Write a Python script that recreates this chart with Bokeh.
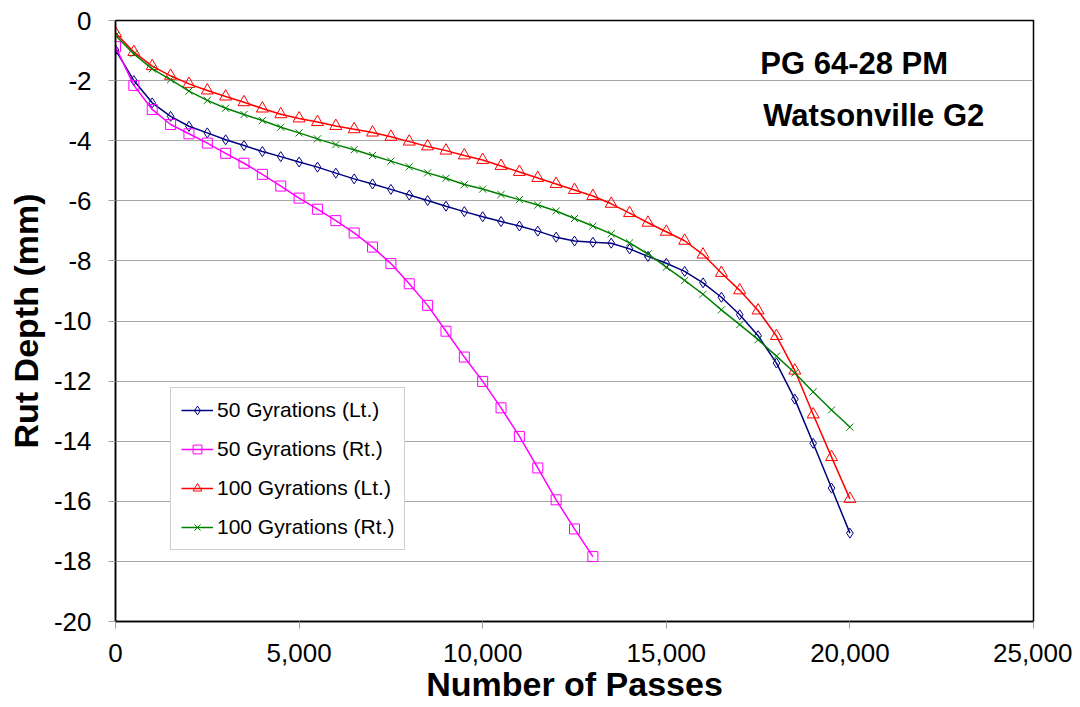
from bokeh.plotting import figure
from bokeh.models import (Legend, LegendItem, NumeralTickFormatter, PrintfTickFormatter,
                          FixedTicker, Label, Range1d)
from bokeh.embed import file_html
from bokeh.resources import INLINE

# ---- data ----
passes_full = [0, 500, 1000, 1500, 2000, 2500, 3000, 3500, 4000, 4500, 5000, 5500, 6000, 6500,
               7000, 7500, 8000, 8500, 9000, 9500, 10000, 10500, 11000, 11500, 12000, 12500,
               13000, 13500, 14000, 14500, 15000, 15500, 16000, 16500, 17000, 17500, 18000,
               18500, 19000, 19500, 20000]
passes_50rt = passes_full[:27]

g50_lt = [-0.98, -2.00, -2.74, -3.19, -3.52, -3.74, -3.97, -4.16, -4.36, -4.53, -4.71, -4.88,
          -5.08, -5.27, -5.44, -5.62, -5.81, -5.99, -6.18, -6.36, -6.53, -6.69, -6.84, -7.01,
          -7.21, -7.34, -7.38, -7.41, -7.60, -7.85, -8.08, -8.35, -8.73, -9.21, -9.79, -10.49,
          -11.40, -12.60, -14.07, -15.56, -17.06]
g50_rt = [-0.87, -2.16, -2.96, -3.46, -3.77, -4.08, -4.42, -4.75, -5.12, -5.51, -5.91, -6.28,
          -6.66, -7.07, -7.54, -8.09, -8.76, -9.48, -10.34, -11.20, -12.01, -12.89, -13.84,
          -14.89, -15.95, -16.92, -17.84]
g100_lt = [-0.42, -1.05, -1.52, -1.84, -2.11, -2.33, -2.53, -2.72, -2.93, -3.12, -3.26, -3.38,
           -3.51, -3.62, -3.73, -3.87, -4.03, -4.19, -4.33, -4.49, -4.64, -4.84, -5.04, -5.24,
           -5.44, -5.64, -5.84, -6.10, -6.41, -6.73, -7.03, -7.33, -7.79, -8.40, -8.98, -9.65,
           -10.50, -11.65, -13.11, -14.53, -15.92]
g100_rt = [-0.50, -1.11, -1.61, -1.97, -2.35, -2.66, -2.92, -3.13, -3.33, -3.55, -3.74, -3.94,
           -4.13, -4.30, -4.49, -4.68, -4.87, -5.07, -5.25, -5.46, -5.61, -5.79, -5.96, -6.14,
           -6.34, -6.59, -6.84, -7.10, -7.40, -7.77, -8.21, -8.65, -9.11, -9.63, -10.12,
           -10.62, -11.17, -11.73, -12.36, -12.96, -13.53]

series_names = ["50 Gyrations (Lt.)", "50 Gyrations (Rt.)", "100 Gyrations (Lt.)", "100 Gyrations (Rt.)"]
x_ticks = [0, 5000, 10000, 15000, 20000, 25000]
y_ticks = [0, -2, -4, -6, -8, -10, -12, -14, -16, -18, -20]
annotation_lines = ["PG 64-28 PM", "Watsonville G2"]

FONT = "Liberation Sans"

p = figure(width=1072, height=705, output_backend="svg", toolbar_location=None,
           x_range=Range1d(0, 25000), y_range=Range1d(-20, 0),
           min_border_left=115, min_border_right=39, min_border_top=20, min_border_bottom=78)
p.background_fill_color = "white"
p.border_fill_color = "white"
p.outline_line_color = "black"
p.outline_line_width = 1.5

p.xgrid.visible = False
p.ygrid.grid_line_color = "#a6a6a6"
p.ygrid.grid_line_width = 1
p.ygrid.ticker = FixedTicker(ticks=y_ticks)

p.xaxis.ticker = FixedTicker(ticks=x_ticks)
p.yaxis.ticker = FixedTicker(ticks=y_ticks)
p.xaxis.formatter = NumeralTickFormatter(format="0,0")
p.yaxis.formatter = PrintfTickFormatter(format="%d")
for ax in (p.xaxis[0], p.yaxis[0]):
    ax.axis_line_color = "black"
    ax.axis_line_width = 1.5
    ax.major_tick_line_color = "#a0a0a0"
    ax.major_tick_out = 7
    ax.major_tick_in = 0
    ax.minor_tick_line_color = None
    ax.major_label_text_font = FONT
    ax.major_label_text_font_size = "26px"
    ax.major_label_text_color = "black"
    ax.axis_label_text_font = FONT
    ax.axis_label_text_font_size = "34px"
    ax.axis_label_text_font_style = "bold"
    ax.axis_label_text_color = "black"
p.xaxis.major_label_standoff = 15
p.yaxis.major_label_standoff = 17
p.xaxis.axis_label = "Number of Passes"
p.yaxis.axis_label = "Rut Depth (mm)"
p.xaxis.axis_label_standoff = 0
p.yaxis.axis_label_standoff = 6

# series
r1l = p.line(passes_full, g50_lt, line_color="#000080", line_width=1.5)
r1m = p.scatter(passes_full, g50_lt, marker="diamond", size=10, fill_color=None,
                line_color="#000080", line_width=1)
r2l = p.line(passes_50rt, g50_rt, line_color="#ff00ff", line_width=1.5)
r2m = p.scatter(passes_50rt, g50_rt, marker="square", size=10, fill_color=None,
                line_color="#ff00ff", line_width=1)
r3l = p.line(passes_full, g100_lt, line_color="#ff0000", line_width=1.5)
r3m = p.scatter(passes_full, g100_lt, marker="triangle", size=12, fill_color=None,
                line_color="#ff0000", line_width=1)
r4l = p.line(passes_full, g100_rt, line_color="#008000", line_width=1.5)
r4m = p.scatter(passes_full, g100_rt, marker="x", size=10, line_color="#008000", line_width=1)

legend = Legend(items=[
    LegendItem(label=series_names[0], renderers=[r1l, r1m]),
    LegendItem(label=series_names[1], renderers=[r2l, r2m]),
    LegendItem(label=series_names[2], renderers=[r3l, r3m]),
    LegendItem(label=series_names[3], renderers=[r4l, r4m]),
], location=(55, 71))
legend.border_line_color = "#a0a0a0"
legend.border_line_width = 1
legend.background_fill_color = "white"
legend.background_fill_alpha = 1
legend.label_text_font = FONT
legend.label_text_font_size = "21px"
legend.label_text_color = "black"
legend.glyph_width = 32
legend.glyph_height = 22
legend.label_height = 22
legend.spacing = 15
legend.padding = 10
legend.margin = 0
legend.label_standoff = 4
p.add_layout(legend, "center")

p.add_layout(Label(x=17560, y=-1.42, text=annotation_lines[0], text_font=FONT,
                   text_font_size="31px", text_font_style="bold", text_baseline="middle",
                   text_color="black"))
p.add_layout(Label(x=17640, y=-3.15, text=annotation_lines[1], text_font=FONT,
                   text_font_size="31px", text_font_style="bold", text_baseline="middle",
                   text_color="black"))

open("out.html", "w").write(file_html(p, INLINE))
